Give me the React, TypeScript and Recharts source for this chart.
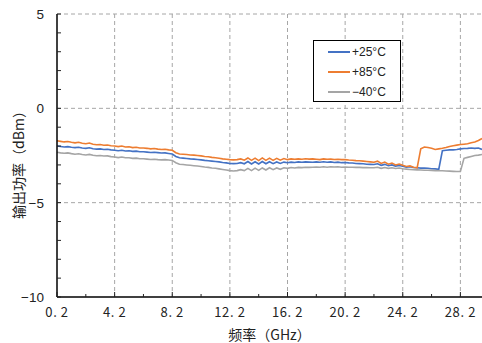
import React from 'react';
import { LineChart, Line, XAxis, YAxis, CartesianGrid, Legend } from 'recharts';

// frequency points (GHz)
const freqs = [
  0.2, 0.45, 0.7, 0.95, 1.2, 1.45, 1.7, 1.95, 2.2, 2.45, 2.7, 2.95, 3.2, 3.45, 3.7, 3.95,
  4.2, 4.45, 4.7, 4.95, 5.2, 5.45, 5.7, 5.95, 6.2, 6.45, 6.7, 6.95, 7.2, 7.45, 7.7, 7.95,
  8.2, 8.45, 8.7, 8.95, 9.2, 9.45, 9.7, 9.95, 10.2, 10.45, 10.7, 10.95, 11.2, 11.45, 11.7, 11.95,
  12.2, 12.45, 12.7, 12.95, 13.2, 13.45, 13.7, 13.95, 14.2, 14.45, 14.7, 14.95, 15.2, 15.45, 15.7, 15.95,
  16.2, 16.45, 16.7, 16.95, 17.2, 17.45, 17.7, 17.95, 18.2, 18.45, 18.7, 18.95, 19.2, 19.45, 19.7, 19.95,
  20.2, 20.45, 20.7, 20.95, 21.2, 21.45, 21.7, 21.95, 22.2, 22.45, 22.7, 22.95, 23.2, 23.45, 23.7, 23.95,
  24.2, 24.45, 24.7, 24.95, 25.2, 25.45, 25.7, 25.95, 26.2, 26.45, 26.7, 26.95, 27.2, 27.45, 27.7, 27.95,
  28.2, 28.45, 28.7, 28.95, 29.2, 29.45, 29.7,
];

// output power (dBm)
const t25 = [
  -2.0, -2.02, -2.05, -2.03, -2.06, -2.08, -2.06, -2.1, -2.12, -2.09, -2.14, -2.16, -2.15, -2.18, -2.17, -2.2,
  -2.22, -2.25, -2.22, -2.26, -2.25, -2.28, -2.27, -2.3, -2.3, -2.32, -2.34, -2.33, -2.35, -2.37, -2.36, -2.39,
  -2.42, -2.55, -2.62, -2.64, -2.66, -2.68, -2.69, -2.71, -2.73, -2.76, -2.78, -2.8, -2.82, -2.84, -2.87, -2.89,
  -2.92, -2.93, -2.92, -2.88, -2.94, -2.82, -2.95, -2.83, -2.95, -2.82, -2.94, -2.83, -2.93, -2.84, -2.92, -2.85,
  -2.88, -2.85, -2.87, -2.84, -2.86, -2.84, -2.85, -2.86, -2.84, -2.86, -2.83, -2.86, -2.84, -2.87, -2.85, -2.88,
  -2.87, -2.89, -2.9, -2.92, -2.93, -2.94, -2.96, -2.97, -2.98, -2.94, -3.02, -2.97, -3.04, -3.0, -3.06, -3.03,
  -3.07, -3.12, -3.1, -3.14, -3.15, -3.17, -3.16, -3.18, -3.2, -3.21, -3.23, -2.25, -2.22, -2.2, -2.2, -2.18,
  -2.15, -2.13, -2.12, -2.1, -2.12, -2.1, -2.18,
];
const t85 = [
  -1.72, -1.75, -1.78, -1.76, -1.8, -1.83, -1.8, -1.85, -1.88, -1.84, -1.9, -1.93, -1.92, -1.96, -1.94, -1.98,
  -2.0, -2.03, -2.0, -2.05, -2.04, -2.08, -2.06, -2.1, -2.1, -2.12, -2.15, -2.13, -2.16, -2.18, -2.17, -2.2,
  -2.22, -2.35, -2.42, -2.43, -2.45, -2.47, -2.48, -2.5, -2.52, -2.55, -2.57, -2.6, -2.62, -2.65, -2.68, -2.7,
  -2.72, -2.73, -2.72, -2.68, -2.75, -2.63, -2.76, -2.64, -2.77, -2.63, -2.76, -2.64, -2.76, -2.65, -2.75, -2.66,
  -2.72, -2.68, -2.7, -2.68, -2.7, -2.67, -2.69, -2.68, -2.7, -2.72, -2.68, -2.7, -2.69, -2.71, -2.7, -2.72,
  -2.72, -2.74, -2.75, -2.77, -2.78, -2.8, -2.82, -2.84, -2.86, -2.8, -2.92, -2.85, -2.96, -2.9, -3.0, -2.95,
  -3.02, -3.08, -3.05, -3.12, -3.15, -2.15, -2.05, -2.08, -2.12, -2.18, -2.15, -2.12, -2.08, -2.02, -1.98, -1.95,
  -1.92, -1.9, -1.88, -1.82, -1.78, -1.7, -1.6,
];
const tm40 = [
  -2.33, -2.36, -2.38, -2.36, -2.4, -2.43, -2.41, -2.45, -2.47, -2.44, -2.49, -2.51, -2.5, -2.53, -2.52, -2.56,
  -2.58, -2.61, -2.58, -2.62, -2.62, -2.65, -2.64, -2.67, -2.67, -2.69, -2.71, -2.7, -2.72, -2.73, -2.72, -2.74,
  -2.76, -2.88, -2.96, -2.98, -3.0, -3.02, -3.04, -3.06, -3.08, -3.11, -3.13, -3.16, -3.18, -3.21, -3.24, -3.27,
  -3.3, -3.32, -3.3, -3.25, -3.3, -3.18, -3.3, -3.17, -3.29, -3.16, -3.27, -3.15, -3.25, -3.16, -3.23, -3.15,
  -3.18, -3.14, -3.16, -3.13, -3.14, -3.12, -3.13, -3.12, -3.11, -3.12, -3.1, -3.12, -3.1, -3.11, -3.1, -3.12,
  -3.11, -3.12, -3.12, -3.13, -3.13, -3.14, -3.14, -3.15, -3.15, -3.12, -3.18, -3.14, -3.18, -3.15, -3.19, -3.16,
  -3.2, -3.22, -3.24, -3.25, -3.26, -3.27, -3.28, -3.28, -3.29, -3.3, -3.31, -3.31, -3.32, -3.33, -3.34, -3.35,
  -3.35, -2.65, -2.6, -2.55, -2.5, -2.48, -2.45,
];

const xTicks = [0.2, 2.2, 4.2, 6.2, 8.2, 10.2, 12.2, 14.2, 16.2, 18.2, 20.2, 22.2, 24.2, 26.2, 28.2];
const xGrid = [4.2, 8.2, 12.2, 16.2, 20.2, 24.2, 28.2];
const yTicks = [-10, -9, -8, -7, -6, -5, -4, -3, -2, -1, 0, 1, 2, 3, 4, 5];
const yGrid = [5, 0, -5];

const data = freqs.map((f, i) => ({ f, t25: t25[i], t85: t85[i], tm40: tm40[i] }));

const cjk = '"Noto Sans CJK SC", "Noto Sans", sans-serif';

const isMajorX = (v: number) => Math.abs((v - 0.2) / 4 - Math.round((v - 0.2) / 4)) < 1e-6;

const XTick = (props: any) => {
  const { x, y, payload } = props;
  const major = isMajorX(payload.value);
  const label = payload.value.toFixed(1).replace('.', '. ');
  return (
    <g>
      <line x1={x} x2={x} y1={y} y2={y - (major ? 5 : 3)} stroke="#222" />
      {major && (
        <text x={x} y={y + 20} textAnchor="middle" fontSize={13} fontFamily={cjk} fill="#222" letterSpacing={0.6}>
          {label}
        </text>
      )}
    </g>
  );
};

const YTick = (props: any) => {
  const { x, y, payload } = props;
  const v = payload.value;
  const major = v % 5 === 0;
  return (
    <g>
      <line x1={x} x2={x + 4} y1={y} y2={y} stroke="#222" />
      {major && (
        <text x={x - 13} y={y + 5} textAnchor="end" fontSize={13.5} fontFamily="'Liberation Sans', Arial, sans-serif" fill="#222">
          {v < 0 ? `\u2212${Math.abs(v)}` : v}
        </text>
      )}
    </g>
  );
};

const YLabel = ({ viewBox }: any) => {
  const cx = viewBox.x + 18;
  const cy = viewBox.y + viewBox.height / 2 + 6;
  return (
    <text x={cx} y={cy} transform={`rotate(-90, ${cx}, ${cy})`} textAnchor="middle" dominantBaseline="central"
      fontSize={14} fontFamily={cjk} fill="#222">
      输出功率（dBm）
    </text>
  );
};

const renderLegend = (props: any) => (
  <div style={{ border: '1px solid #000', background: '#fff', width: 86, height: 59, paddingTop: 1, boxSizing: 'content-box' }}>
    {props.payload.map((e: any) => (
      <div key={e.value} style={{ display: 'flex', alignItems: 'center', height: 20 }}>
        <svg width={22} height={4} style={{ marginLeft: 14 }}>
          <line x1={0} x2={22} y1={2} y2={2} stroke={e.color} strokeWidth={2} />
        </svg>
        <span style={{ marginLeft: 2, fontSize: 12, fontFamily: "'Liberation Sans', Arial, sans-serif", color: '#222' }}>
          {e.value}
        </span>
      </div>
    ))}
  </div>
);

export default function App() {
  return (
    <div style={{ position: 'absolute', left: 0, top: 0 }}>
      <LineChart width={482} height={343} data={data} margin={{ top: 14, right: 0, bottom: 0, left: 0 }}>
        <CartesianGrid horizontalValues={yGrid} verticalValues={xGrid} stroke="#a6a6a6" strokeDasharray="4 3" />
        <XAxis
          dataKey="f"
          type="number"
          domain={[0.2, 29.7]}
          ticks={xTicks}
          interval={0}
          height={46}
          tickSize={0}
          tickMargin={0}
          tickLine={false}
          tick={<XTick />}
          axisLine={{ stroke: '#000', strokeWidth: 1.5 }}
          label={{ value: '频率（GHz）', position: 'insideBottom', offset: 3, style: { fontSize: 14, fontFamily: cjk, fill: '#222' } }}
        />
        <YAxis
          type="number"
          domain={[-10, 5]}
          ticks={yTicks}
          interval={0}
          width={57}
          tickSize={0}
          tickMargin={0}
          tickLine={false}
          tick={<YTick />}
          axisLine={{ stroke: '#000', strokeWidth: 1.5 }}
          label={YLabel}
        />
        <Legend
          layout="vertical"
          align="center"
          verticalAlign="middle"
          content={renderLegend}
          wrapperStyle={{ left: 313, top: 40, width: 88 }}
        />
        <Line dataKey="t25" name="+25°C" stroke="#4472C4" strokeWidth={1.6} dot={false} isAnimationActive={false} />
        <Line dataKey="t85" name="+85°C" stroke="#ED7D31" strokeWidth={1.6} dot={false} isAnimationActive={false} />
        <Line dataKey="tm40" name={'\u221240°C'} stroke="#A5A5A5" strokeWidth={1.6} dot={false} isAnimationActive={false} />
      </LineChart>
    </div>
  );
}
